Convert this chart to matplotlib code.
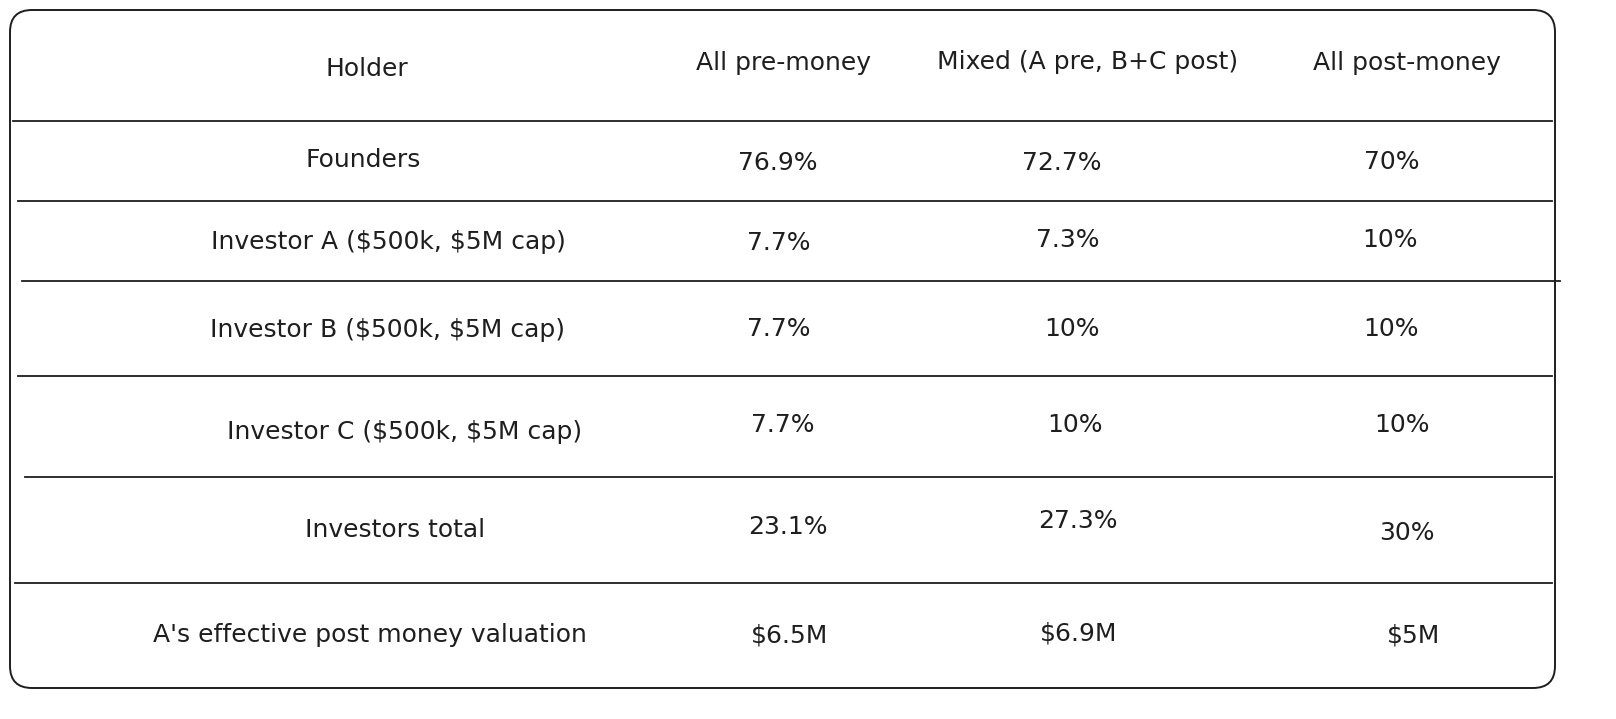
import matplotlib.pyplot as plt
from matplotlib.patches import FancyBboxPatch

columns = ["Holder", "All pre-money", "Mixed (A pre, B+C post)", "All post-money"]
holders = ["Founders", "Investor A ($500k, $5M cap)", "Investor B ($500k, $5M cap)",
           "Investor C ($500k, $5M cap)", "Investors total", "A's effective post money valuation"]
all_pre = ["76.9%", "7.7%", "7.7%", "7.7%", "23.1%", "$6.5M"]
mixed = ["72.7%", "7.3%", "10%", "10%", "27.3%", "$6.9M"]
all_post = ["70%", "10%", "10%", "10%", "30%", "$5M"]

# hand-drawn look: every cell sits a little off the grid
header_pos = [(367, 69), (783, 63), (1088, 62), (1407, 63)]
cell_x = [[363, 778, 1062, 1392],
          [388, 779, 1068, 1390],
          [388, 779, 1072, 1391],
          [405, 783, 1075, 1402],
          [395, 788, 1078, 1407],
          [370, 790, 1079, 1414]]
cell_y = [[160, 163, 163, 162],
          [242, 243, 240, 240],
          [330, 329, 329, 329],
          [432, 425, 425, 425],
          [530, 527, 521, 533],
          [635, 635, 634, 636]]
# row separators (y, x start, x end)
rules = [(121, 13, 1552), (201, 18, 1552), (281, 22, 1560),
         (376, 18, 1552), (477, 25, 1552), (583, 15, 1552)]

fig = plt.figure(figsize=(16.16, 7.19), dpi=100)
ax = fig.add_axes([0, 0, 1, 1])
ax.set_xlim(0, 1616)
ax.set_ylim(719, 0)
ax.axis("off")

box = FancyBboxPatch((10, 10), 1545, 678, boxstyle="round,pad=0,rounding_size=22",
                     fill=False, edgecolor="#1e1e1e", linewidth=1.4)
ax.add_patch(box)

for y, x0, x1 in rules:
    ax.plot([x0, x1], [y, y], color="#1e1e1e", linewidth=1.3)

font = dict(family="DejaVu Sans", fontsize=18, color="#1e1e1e", ha="center", va="center",
            parse_math=False)

for (x, y), label in zip(header_pos, columns):
    ax.text(x, y, label, **font)

rows = list(zip(holders, all_pre, mixed, all_post))
for i, row in enumerate(rows):
    for j, value in enumerate(row):
        ax.text(cell_x[i][j], cell_y[i][j], value, **font)

plt.savefig("out.png", dpi=100)
plt.close()
